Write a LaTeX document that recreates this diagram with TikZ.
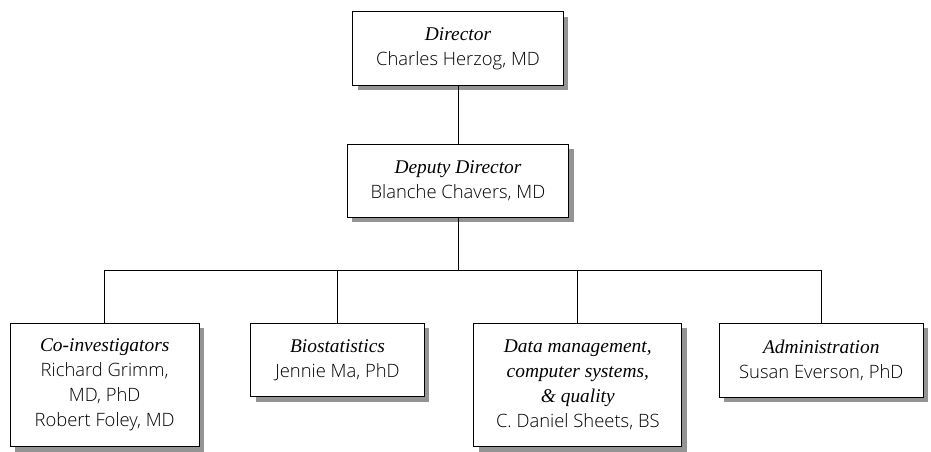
\documentclass[tikz,border=0pt]{standalone}
\usepackage{fontspec}
\setmainfont{Liberation Serif}
\setsansfont{Open Sans}[UprightFont={* Light}]
\usetikzlibrary{shadows}
\definecolor{shade}{gray}{0.58}
\tikzset{unit/.style={draw=black,fill=white,line width=0.5pt,align=center,inner sep=0pt,
           drop shadow={shadow xshift=2.5pt,shadow yshift=-2.5pt,fill=shade,opacity=1}},
         link/.style={draw=black,line width=0.5pt}}
\newcommand{\ttl}[1]{{\rmfamily\itshape\fontsize{9.7}{12.5}\selectfont #1}}

\begin{document}
\begin{tikzpicture}[x=0.5pt,y=-0.5pt,font=\sffamily\fontsize{9.2}{12.5}\selectfont]
  % Centre's organisation: director, deputy, then four units on one bus.
  \useasboundingbox (0,0) rectangle (931,451);
  \node[unit,minimum width=105.3pt,minimum height=36.7pt] (director) at (458,48.3)
    {\ttl{Director}\\Charles Herzog, MD};
  \node[unit,minimum width=110.8pt,minimum height=36.7pt] (deputy) at (458,180.7)
    {\ttl{Deputy Director}\\Blanche Chavers, MD};
  \coordinate (bus) at (458,270);
  \node[unit,minimum width=94.7pt,minimum height=61.9pt] (coinv) at (104.7,384.9)
    {\ttl{Co-investigators}\\Richard Grimm,\\MD, PhD\\Robert Foley, MD};
  \node[unit,minimum width=86.8pt,minimum height=36.9pt] (biostat) at (337.5,359.9)
    {\ttl{Biostatistics}\\Jennie Ma, PhD};
  \node[unit,minimum width=103.9pt,minimum height=61.9pt] (datamgmt) at (577.8,384.9)
    {\ttl{Data management,}\\\ttl{computer systems,}\\\ttl{\& quality}\\C. Daniel Sheets, BS};
  \node[unit,minimum width=102pt,minimum height=37.2pt] (admin) at (821.3,360.2)
    {\ttl{Administration}\\Susan Everson, PhD};
  \draw[link] (director) -- (deputy);
  \draw[link] (deputy) -- (bus);
  \foreach \u in {coinv,biostat,datamgmt,admin}
    \draw[link] (bus) -| (\u);
\end{tikzpicture}
\end{document}
